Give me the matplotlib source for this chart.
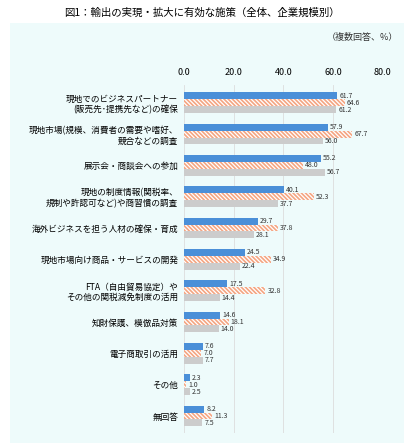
import matplotlib
matplotlib.use('Agg')
import matplotlib.pyplot as plt
import numpy as np
from matplotlib.patches import Rectangle

plt.rcParams['font.family'] = ['Noto Sans CJK JP', 'DejaVu Sans']
plt.rcParams['hatch.color'] = '#f4a582'
plt.rcParams['hatch.linewidth'] = 1.2

categories = ["現地でのビジネスパートナー\n(販売先･提携先など)の確保",
              "現地市場(規模、消費者の需要や嗜好、\n競合などの調査",
              "展示会・商談会への参加",
              "現地の制度情報(関税率、\n規制や許認可など)や商習慣の調査",
              "海外ビジネスを担う人材の確保・育成",
              "現地市場向け商品・サービスの開発",
              "FTA（自由貿易協定）や\nその他の関税減免制度の活用",
              "知財保護、模倣品対策",
              "電子商取引の活用",
              "その他",
              "無回答"]
s1 = [61.7, 57.9, 55.2, 40.1, 29.7, 24.5, 17.5, 14.6, 7.6, 2.3, 8.2]
s2 = [64.6, 67.7, 48.0, 52.3, 37.8, 34.9, 32.8, 18.1, 7.0, 1.0, 11.3]
s3 = [61.2, 56.0, 56.7, 37.7, 28.1, 22.4, 14.4, 14.0, 7.7, 2.5, 7.5]
xticks = [0, 20, 40, 60, 80]

fig = plt.figure(figsize=(4.04, 4.43), dpi=100)
fig.patches.append(Rectangle((0.025, 0), 0.975, 0.948, transform=fig.transFigure,
                             facecolor='#eefbfb', edgecolor='none', zorder=-1))
fig.text(0.5, 0.972, "図1：輸出の実現・拡大に有効な施策（全体、企業規模別）",
         ha='center', va='center', fontsize=7.5)
fig.text(0.985, 0.915, "（複数回答、%）", ha='right', va='center', fontsize=6.5, color='#333')

ax = fig.add_axes([0.455, 0.022, 0.493, 0.785])
ax.set_facecolor('none')
n = len(categories)
y = np.arange(n)
h = 0.22
ax.barh(y - h, s1, height=h, color='#4a8fd8')
ax.barh(y, s2, height=h, color='white', hatch='\\\\\\\\\\\\\\\\', edgecolor='#f4a582', linewidth=0)
ax.barh(y + h, s3, height=h, color='#cccccc')
for vals, off in [(s1, -h), (s2, 0), (s3, h)]:
    for i, v in enumerate(vals):
        ax.text(v + 0.8, i + off, f"{v:.1f}", va='center', ha='left', fontsize=5, color='#333')
ax.set_ylim(n - 0.45, -0.55)
ax.set_xlim(0, 80)
ax.set_xticks(xticks)
ax.set_xticklabels([f"{t:.1f}" for t in xticks], fontsize=6.5)
ax.xaxis.tick_top()
ax.tick_params(axis='x', length=0, pad=6)
ax.grid(axis='x', color='#dddddd', linewidth=0.6)
ax.set_axisbelow(True)
ax.set_yticks(y)
ax.set_yticklabels(categories, fontsize=6.2)
ax.tick_params(axis='y', length=0, pad=4)
for s in ax.spines.values():
    s.set_visible(False)
fig.savefig('out.png', dpi=100)
